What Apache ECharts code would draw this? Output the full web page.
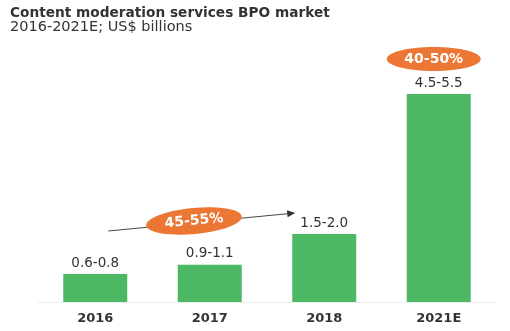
<!DOCTYPE html>
<html><head><meta charset="utf-8">
<script src="https://cdn.jsdelivr.net/npm/echarts@6/dist/echarts.min.js"></script>
<style>html,body{margin:0;padding:0;background:#fff}#c{width:510px;height:331px}</style>
</head><body><div id="c"></div>
<script>
const categories = ['2016', '2017', '2018', '2021E'];
const barValues = [0.7, 0.93, 1.7, 5.2];
const rangeLabels = ['0.6-0.8', '0.9-1.1', '1.5-2.0', '4.5-5.5'];
const growthLabels = ['45-55%', '40-50%'];
const titleText = 'Content moderation services BPO market';
const subtitleText = '2016-2021E; US$ billions';

const chart = echarts.init(document.getElementById('c'), null, {renderer: 'canvas'});
const GREEN = '#4db863', ORANGE = '#ec7734', TXT = '#333333';
chart.setOption({
  animation: false,
  title: {
    text: titleText, subtext: subtitleText, left: 5, top: 1, itemGap: 0,
    textStyle: {fontFamily: 'DejaVu Sans', fontWeight: 'bold', fontSize: 13.7, color: TXT},
    subtextStyle: {fontFamily: 'DejaVu Sans', fontSize: 14.5, color: TXT}
  },
  grid: {left: 38, right: 14, top: 62, bottom: 29},
  xAxis: {
    type: 'category', data: categories,
    axisLine: {lineStyle: {color: '#eeeeee', width: 1}},
    axisTick: {show: false},
    axisLabel: {fontFamily: 'DejaVu Sans', fontWeight: 'bold', fontSize: 13, color: TXT, margin: 10}
  },
  yAxis: {type: 'value', min: 0, max: 6, show: false, splitLine: {show: false}},
  series: [{
    type: 'bar', data: barValues, barWidth: 64,
    itemStyle: {color: GREEN},
    label: {
      show: true, position: 'top', distance: 4,
      fontFamily: 'DejaVu Sans', fontSize: 13.5, color: TXT,
      formatter: p => rangeLabels[p.dataIndex]
    }
  }]
});

const p2016 = chart.convertToPixel({seriesIndex: 0}, ['2016', barValues[0]]);
const p2017 = chart.convertToPixel({seriesIndex: 0}, ['2017', barValues[1]]);
const p2018 = chart.convertToPixel({seriesIndex: 0}, ['2018', barValues[2]]);
const p2021 = chart.convertToPixel({seriesIndex: 0}, ['2021E', barValues[3]]);

const ax0 = [p2016[0] + 13, 231], ax1 = [p2018[0] - 29, 213];
const ang = Math.atan2(ax1[1] - ax0[1], ax1[0] - ax0[0]);
const ah = 8, aw = 3.5;
const tip = ax1;
const b1 = [tip[0] - ah * Math.cos(ang) + aw * Math.sin(ang), tip[1] - ah * Math.sin(ang) - aw * Math.cos(ang)];
const b2 = [tip[0] - ah * Math.cos(ang) - aw * Math.sin(ang), tip[1] - ah * Math.sin(ang) + aw * Math.cos(ang)];
const e1 = [(p2017[0] + p2018[0]) / 2 - 73, 221];
const e2 = [p2021[0] - 5, p2021[1] - 35];

chart.setOption({
  graphic: [
    {type: 'line', shape: {x1: ax0[0], y1: ax0[1], x2: ax1[0] - 4 * Math.cos(ang), y2: ax1[1] - 4 * Math.sin(ang)},
     style: {stroke: '#444', lineWidth: 1}, z: 10},
    {type: 'polygon', shape: {points: [tip, b1, b2]}, style: {fill: '#333'}, z: 10},
    {type: 'ellipse', shape: {cx: 0, cy: 0, rx: 48, ry: 13}, x: e1[0], y: e1[1], rotation: -ang,
     style: {fill: ORANGE}, z: 11},
    {type: 'text', x: e1[0], y: e1[1], rotation: -ang, z: 12,
     style: {text: growthLabels[0], fill: '#ffffff', font: 'bold 14px "DejaVu Sans"', align: 'center', verticalAlign: 'middle'}},
    {type: 'ellipse', shape: {cx: 0, cy: 0, rx: 47, ry: 12}, x: e2[0], y: e2[1],
     style: {fill: ORANGE}, z: 11},
    {type: 'text', x: e2[0], y: e2[1], z: 12,
     style: {text: growthLabels[1], fill: '#ffffff', font: 'bold 14px "DejaVu Sans"', align: 'center', verticalAlign: 'middle'}}
  ]
});
</script></body></html>
